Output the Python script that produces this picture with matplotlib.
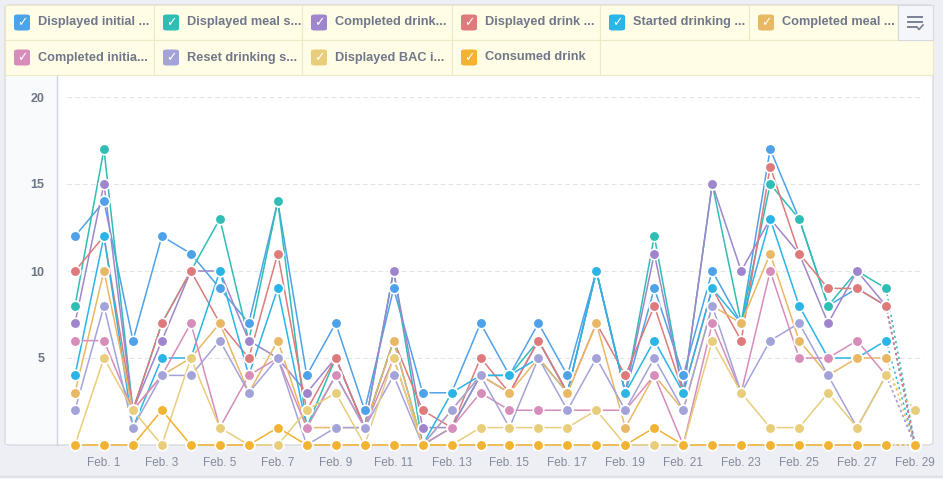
import matplotlib
matplotlib.use("Agg")
import matplotlib.pyplot as plt
from matplotlib.patches import FancyBboxPatch, Rectangle
from matplotlib.lines import Line2D

plt.rcParams['font.family'] = ['Liberation Sans', 'DejaVu Sans']

# days Jan 31 .. Feb 29
days = list(range(30))
tick_days = list(range(1, 30, 2))
tick_labels = [f"Feb. {d}" for d in tick_days]
y_ticks = [5, 10, 15, 20]

labels = ["Displayed initial ...", "Displayed meal s...", "Completed drink...",
          "Displayed drink ...", "Started drinking ...", "Completed meal ...",
          "Completed initia...", "Reset drinking s...", "Displayed BAC i...",
          "Consumed drink"]
colors = ["#4EA2E9", "#2FBDB5", "#9F86CC", "#DE7A7C", "#2BB4E6",
          "#E9B865", "#D78DBA", "#A3A3DA", "#E8CD7A", "#F2B232"]

disp_initial = [12, 14, 6, 12, 11, 9, 7, 14, 4, 7, 2, 9, 3, 3, 7, 4, 7, 4, 10, 3,
                9, 4, 10, 7, 17, 13, 8, 9, 8, 0]
disp_meal = [8, 17, 2, 7, 10, 13, 6, 14, 1, 5, 1, 10, 0, 1, 4, 4, 6, 3, 10, 3,
             12, 3, 15, 7, 15, 13, 8, 10, 9, 0]
comp_drink = [7, 15, 2, 6, 10, 10, 6, 5, 3, 5, 1, 10, 1, 1, 4, 3, 6, 3, 10, 3,
              11, 3, 15, 10, 13, 11, 7, 10, 8, 0]
disp_drink = [10, 12, 2, 7, 10, 7, 5, 11, 2, 5, 1, 6, 2, 1, 5, 3, 6, 3, 7, 4,
              8, 3, 9, 6, 16, 11, 9, 9, 8, 0]
start_drink = [4, 12, 1, 5, 5, 10, 4, 9, 1, 4, 1, 6, 0, 3, 4, 4, 5, 3, 10, 3,
               6, 3, 9, 7, 13, 8, 5, 5, 6, 0]
comp_meal = [3, 10, 2, 4, 5, 7, 3, 6, 1, 1, 1, 6, 0, 2, 4, 3, 5, 3, 7, 1,
             4, 2, 8, 7, 11, 6, 4, 5, 5, 0]
comp_initial = [6, 6, 2, 4, 7, 1, 4, 5, 1, 4, 1, 5, 0, 1, 3, 2, 2, 2, 2, 2,
                4, 0, 7, 3, 10, 5, 5, 6, 4, 0]
reset_drink = [2, 8, 1, 4, 4, 6, 3, 5, 0, 1, 1, 4, 0, 2, 4, 1, 5, 2, 5, 2,
               5, 2, 8, 3, 6, 7, 4, 1, 4, 0]
disp_bac = [0, 5, 2, 0, 5, 1, 0, 0, 2, 3, 0, 5, 0, 0, 1, 1, 1, 1, 2, 0,
            0, 0, 6, 3, 1, 1, 3, 1, 4, 2]
consumed = [0, 0, 0, 2, 0, 0, 0, 1, 0, 0, 0, 0, 0, 0, 0, 0, 0, 0, 0, 0,
            1, 0, 0, 0, 0, 0, 0, 0, 0, 0]

series = [disp_initial, disp_meal, comp_drink, disp_drink, start_drink,
          comp_meal, comp_initial, reset_drink, disp_bac, consumed]

W, H = 943, 479
fig = plt.figure(figsize=(W / 100, H / 100), dpi=100, facecolor="#EEEFF4")


def fx(x):
    return x / W


def fy(y):
    return 1 - y / H


# white panel
panel = FancyBboxPatch((fx(5), fy(445)), fx(928), (445 - 5) / H,
                       boxstyle="round,pad=0,rounding_size=0.006",
                       transform=fig.transFigure, facecolor="white",
                       edgecolor="#D6D9E0", linewidth=1, zorder=-3)
fig.patches.append(panel)
# left axis column
fig.patches.append(Rectangle((fx(6), fy(444)), fx(51), (444 - 75) / H,
                             transform=fig.transFigure, facecolor="#F9FAFC",
                             edgecolor="none", zorder=-2))

# legend cells
cell_x = [5, 154, 302, 452, 600, 749, 898]
for i, lab in enumerate(labels):
    row, col = divmod(i, 6)
    x0 = cell_x[col]
    x1 = cell_x[col + 1]
    y0 = 5 + row * 35
    fig.patches.append(Rectangle((fx(x0), fy(y0 + 35)), fx(x1 - x0), 35 / H,
                                 transform=fig.transFigure, facecolor="#FFFDE6",
                                 edgecolor="#EDE9C6", linewidth=0.8, zorder=1))
    cy = y0 + 17.5
    fig.patches.append(FancyBboxPatch((fx(x0 + 9), fy(cy + 8)), fx(16), 16 / H,
                                      boxstyle="round,pad=0,rounding_size=0.004",
                                      transform=fig.transFigure, facecolor=colors[i],
                                      edgecolor="none", zorder=2))
    fig.text(fx(x0 + 17), fy(cy), "\u2713", color="white", fontsize=9,
             ha="center", va="center", family=['DejaVu Sans'], zorder=3)
    fig.text(fx(x0 + 33), fy(cy), lab, color="#707789", fontsize=9.2,
             fontweight="bold", ha="left", va="center", zorder=3)
# empty filler in second row
fig.patches.append(Rectangle((fx(600), fy(75)), fx(333), 35 / H,
                             transform=fig.transFigure, facecolor="#FFFDE6",
                             edgecolor="#EDE9C6", linewidth=0.8, zorder=1))
# options icon cell
fig.patches.append(Rectangle((fx(898), fy(40)), fx(35), 35 / H,
                             transform=fig.transFigure, facecolor="#F5F6FA",
                             edgecolor="#D6D9E0", linewidth=0.8, zorder=1))
for yy, ww in [(17, 14), (22, 14), (27, 8)]:
    fig.lines.append(Line2D([fx(908), fx(908 + ww)], [fy(yy), fy(yy)],
                            transform=fig.transFigure, color="#7A8194", lw=1.4,
                            zorder=3))
fig.lines.append(Line2D([fx(917), fx(919), fx(923)], [fy(27), fy(29.5), fy(25)],
                        transform=fig.transFigure, color="#7A8194", lw=1.2,
                        zorder=3))

# chart axes
ax = fig.add_axes([fx(57), fy(445), fx(876), (445 - 75) / H])
ax.set_zorder(0)
ax.patch.set_alpha(0)
px_day = 840 / 29
ax.set_xlim(-18 / px_day, (876 - 18) / px_day)
ax.set_ylim(0, 370 / 17.4)

ax.hlines(y_ticks, (67 - 75) / px_day, (923 - 75) / px_day, colors="#E3E4E8",
          linestyles=(0, (4, 3)), linewidth=0.8, zorder=1)

for vals, c in zip(series, colors):
    ax.plot(days[:-1], vals[:-1], color=c, lw=1.1, zorder=3, clip_on=False)
    ax.plot(days[-2:], vals[-2:], color=c, lw=1.1, ls=(0, (1.5, 2)), zorder=3,
            clip_on=False)
for vals, c in zip(series, colors):
    ax.plot(days, vals, ls="none", marker="o", ms=7.6, mfc=c, mec="white",
            mew=1.2, zorder=4, clip_on=False)

for s in ["top", "right", "bottom"]:
    ax.spines[s].set_visible(False)
ax.spines["left"].set_color("#C8D5E2")
ax.spines["left"].set_linewidth(1)

ax.set_yticks(y_ticks)
ax.set_yticklabels([str(v) for v in y_ticks])
ax.tick_params(axis="y", length=0, pad=9, labelsize=9, labelcolor="#6E7587")
for t in ax.get_yticklabels():
    t.set_fontweight("bold")
ax.set_xticks(tick_days)
ax.set_xticklabels(tick_labels)
ax.tick_params(axis="x", length=0, pad=9, labelsize=8.5, labelcolor="#828A9B")

fig.lines.append(Line2D([0, 1], [fy(476), fy(476)], transform=fig.transFigure,
                        color="#D9DBE2", lw=1))

fig.savefig("out.png", dpi=100, facecolor=fig.get_facecolor())
